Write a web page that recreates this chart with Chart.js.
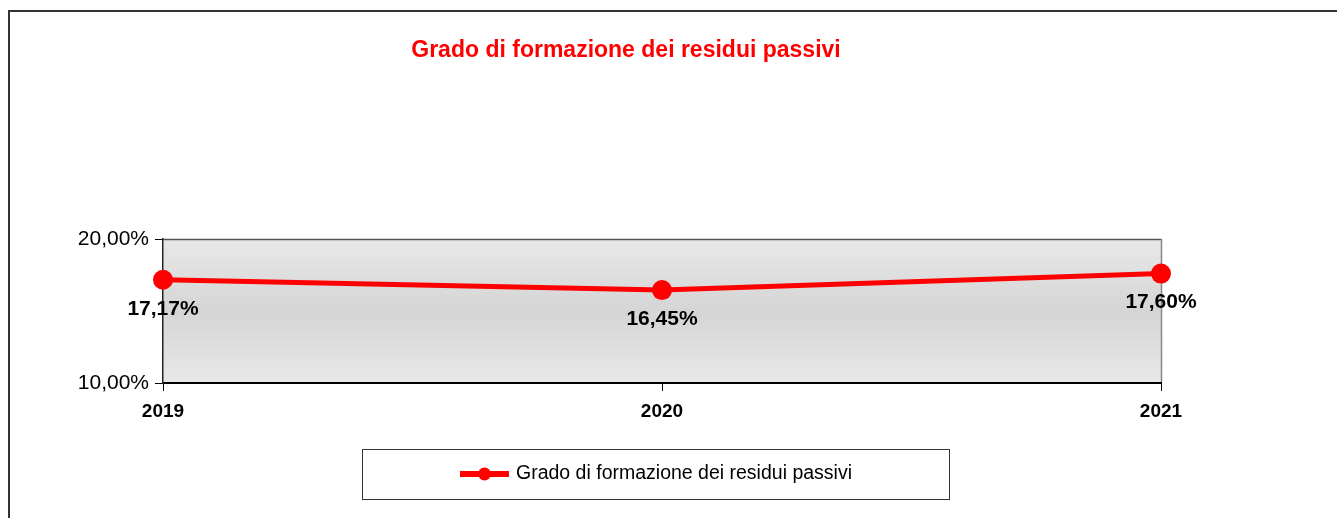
<!DOCTYPE html>
<html>
<head>
<meta charset="utf-8">
<script src="https://cdn.jsdelivr.net/npm/chart.js@4/dist/chart.umd.min.js"></script>
<style>
  html, body { margin: 0; padding: 0; background: #fff; }
  canvas { display: block; }
</style>
</head>
<body>
<canvas id="chart" width="1337" height="518"></canvas>
<script>
// dati
const anni = ['2019', '2020', '2021'];
const valori = [17.17, 16.45, 17.60];
const titolo = 'Grado di formazione dei residui passivi';
const yMin = 10;
const yMax = 20;

function fmtPerc(v) {
    return v.toFixed(2).replace('.', ',') + '%';
}

// cornice esterna, sfondo area grafico, titolo, legenda, etichette
const decorazioni = {
    id: 'decorazioni',
    beforeDraw(chart) {
        const ctx = chart.ctx;
        const a = chart.chartArea;
        ctx.save();
        const g = ctx.createLinearGradient(0, a.top, 0, a.bottom);
        g.addColorStop(0, '#e8e8e8');
        g.addColorStop(0.5, '#d5d5d5');
        g.addColorStop(1, '#e8e8e8');
        ctx.fillStyle = g;
        ctx.fillRect(a.left, a.top, a.right - a.left, a.bottom - a.top);
        ctx.strokeStyle = '#555';
        ctx.lineWidth = 1.5;
        ctx.beginPath();
        ctx.moveTo(a.left, a.top + 0.5);
        ctx.lineTo(a.right + 0.5, a.top + 0.5);
        ctx.stroke();
        ctx.strokeStyle = '#888';
        ctx.beginPath();
        ctx.moveTo(a.right + 0.5, a.top);
        ctx.lineTo(a.right + 0.5, a.bottom);
        ctx.stroke();
        ctx.restore();
    },
    afterDraw(chart) {
        const ctx = chart.ctx;
        ctx.save();
        // cornice
        ctx.strokeStyle = '#333';
        ctx.lineWidth = 2;
        ctx.beginPath();
        ctx.moveTo(1337, 11);
        ctx.lineTo(9, 11);
        ctx.lineTo(9, 518);
        ctx.stroke();

        // titolo
        ctx.fillStyle = '#ff0000';
        ctx.font = 'bold 23px "Liberation Sans", Arial, sans-serif';
        ctx.textAlign = 'center';
        ctx.textBaseline = 'middle';
        ctx.fillText(titolo, 626, 51);

        // etichette dei valori
        const meta = chart.getDatasetMeta(0);
        ctx.fillStyle = '#000';
        ctx.font = 'bold 21px "Liberation Sans", Arial, sans-serif';
        meta.data.forEach((p, i) => {
            ctx.fillText(fmtPerc(valori[i]), p.x, p.y + 29);
        });

        // legenda
        ctx.strokeStyle = '#333';
        ctx.lineWidth = 1;
        ctx.strokeRect(362.5, 449.5, 587, 50);
        ctx.strokeStyle = '#ff0000';
        ctx.lineWidth = 6;
        ctx.beginPath();
        ctx.moveTo(460, 474);
        ctx.lineTo(509, 474);
        ctx.stroke();
        ctx.fillStyle = '#ff0000';
        ctx.beginPath();
        ctx.arc(484.5, 474, 6.5, 0, Math.PI * 2);
        ctx.fill();
        ctx.fillStyle = '#000';
        ctx.font = '19.5px "Liberation Sans", Arial, sans-serif';
        ctx.textAlign = 'left';
        ctx.fillText(titolo, 516, 474);
        ctx.restore();
    }
};

new Chart(document.getElementById('chart'), {
    type: 'line',
    data: {
        labels: anni,
        datasets: [{
            label: titolo,
            data: valori,
            borderColor: '#ff0000',
            backgroundColor: '#ff0000',
            borderWidth: 5,
            pointRadius: 10,
            pointBorderWidth: 0,
            pointBackgroundColor: '#ff0000',
            tension: 0,
            clip: false
        }]
    },
    options: {
        responsive: false,
        devicePixelRatio: 1,
        animation: false,
        layout: {
            padding: { left: 0, top: 239, right: 176, bottom: 0 }
        },
        plugins: {
            legend: { display: false },
            title: { display: false },
            tooltip: { enabled: false }
        },
        scales: {
            x: {
                offset: false,
                grid: {
                    drawOnChartArea: false,
                    drawTicks: true,
                    tickLength: 8,
                    color: '#000'
                },
                border: { display: true, color: '#000', width: 2 },
                ticks: {
                    color: '#000',
                    padding: 9,
                    font: { family: '"Liberation Sans", Arial, sans-serif', size: 19, weight: 'bold' }
                },
                afterFit(scale) { scale.height = 135; }
            },
            y: {
                min: yMin,
                max: yMax,
                grid: {
                    drawOnChartArea: false,
                    drawTicks: true,
                    tickLength: 8,
                    color: '#000'
                },
                border: { display: true, color: '#222', width: 1.5 },
                ticks: {
                    stepSize: 10,
                    color: '#000',
                    padding: 6,
                    font: { family: '"Liberation Sans", Arial, sans-serif', size: 21 },
                    callback: v => fmtPerc(v)
                },
                afterFit(scale) { scale.width = 163; }
            }
        }
    },
    plugins: [decorazioni]
});
</script>
</body>
</html>
